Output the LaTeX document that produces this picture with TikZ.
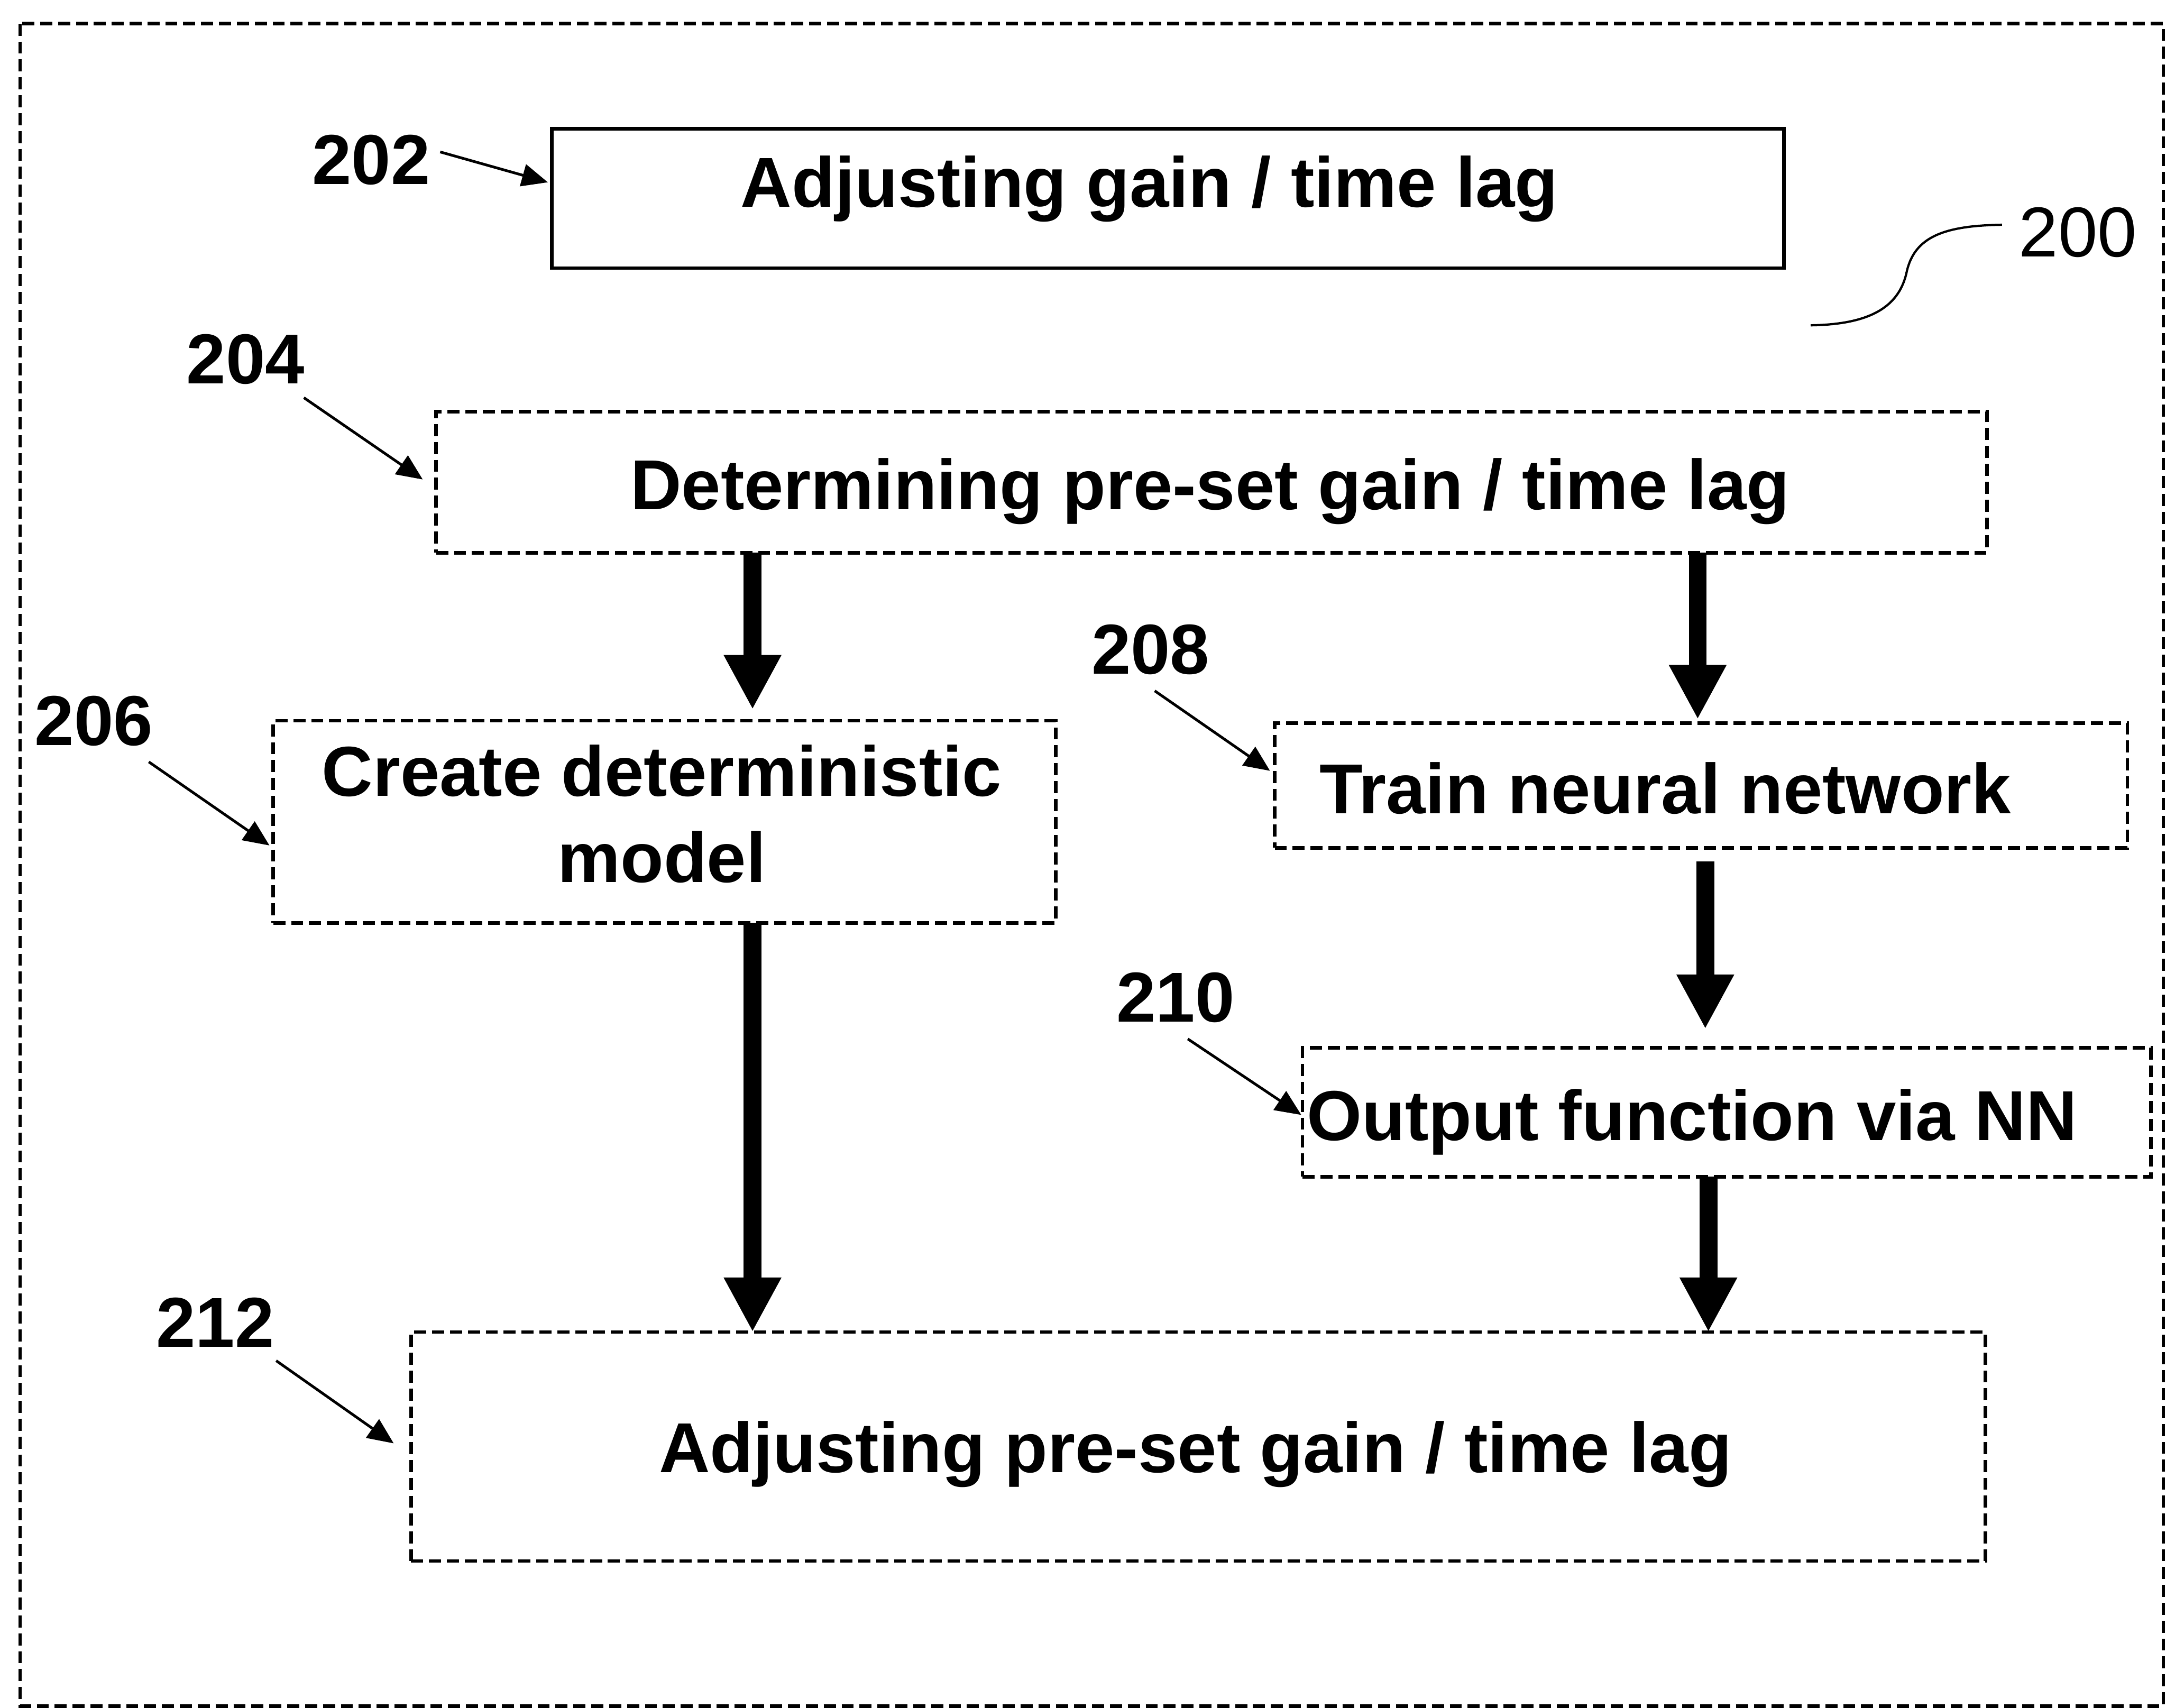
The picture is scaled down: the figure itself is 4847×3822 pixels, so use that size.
\documentclass[tikz,border=0pt]{standalone}
\usepackage{fontspec}
\setmainfont{Liberation Sans}
\usetikzlibrary{arrows.meta}
\begin{document}
\begin{tikzpicture}[x=0.01cm,y=-0.01cm,
  frame/.style={draw, line width=0.08cm, dash pattern=on 0.27cm off 0.13cm},
  stepbox/.style={draw, line width=0.08cm, dash pattern=on 0.27cm off 0.13cm,
    inner sep=0pt, outer sep=0pt, rectangle},
  solidbox/.style={draw, line width=0.08cm, inner sep=0pt, outer sep=0pt, rectangle},
  steptext/.style={inner sep=0pt, font=\fontsize{45}{54}\selectfont\bfseries},
  reflabel/.style={inner sep=0pt, anchor=base west, font=\fontsize{45}{54}\selectfont\bfseries},
  bigarrow/.style={line width=0.4cm, -{Triangle[width=1.2cm,length=1.22cm]}},
  leader/.style={line width=0.06cm, -{Triangle[width=0.5cm,length=0.58cm]}}
]
\useasboundingbox (0,0) rectangle (4847,3822);

% outer frame
\draw[frame] (45,53) rectangle (4841,3818);

% process steps
\node[solidbox, minimum width=27.55cm, minimum height=3.12cm] (b202) at (2613.5,444) {};
\node[stepbox, minimum width=34.68cm, minimum height=3.16cm] (b204) at (2711,1079) {};
\node[stepbox, minimum width=17.50cm, minimum height=4.52cm] (b206) at (1487,1839) {};
\node[stepbox, minimum width=19.07cm, minimum height=2.79cm] (b208) at (3806.5,1757.5) {};
\node[stepbox, minimum width=18.98cm, minimum height=2.88cm] (b210) at (3864,2489) {};
\node[stepbox, minimum width=35.21cm, minimum height=5.12cm] (b212) at (2681.5,3237) {};

% step texts
\node[steptext, anchor=base west] (t202) at (1657,463) {Adjusting gain / time lag};
\node[steptext, anchor=base west] (t204) at (1410,1140) {Determining pre-set gain / time lag};
\node[steptext, anchor=base] (t206a) at (1481,1782) {Create deterministic};
\node[steptext, anchor=base] (t206b) at (1481,1974) {model};
\node[steptext, anchor=base west] (t208) at (2952,1820) {Train neural network};
\node[steptext, anchor=base west] (t210) at (2924,2552) {Output function via NN};
\node[steptext, anchor=base west] (t212) at (1474,3295) {Adjusting pre-set gain / time lag};

% flow arrows
\coordinate (colL) at (1684,0);
\coordinate (colR1) at (3799,0);
\coordinate (colR2) at (3816,0);
\coordinate (colR3) at (3823,0);
\draw[bigarrow, shorten >=0.25cm] (b204.south -| colL) -- (b206.north -| colL);
\draw[bigarrow, shorten >=0.08cm] (b204.south -| colR1) -- (b208.north -| colR1);
\draw[bigarrow, shorten <=0.31cm, shorten >=0.42cm] (b208.south -| colR2) -- (b210.north -| colR2);
\draw[bigarrow] (b206.south -| colL) -- (b212.north -| colL);
\draw[bigarrow] (b210.south -| colR3) -- (b212.north -| colR3);

% reference numerals
\node[reflabel] (l202) at (698,412) {202};
\node[reflabel] (l204) at (417,859) {204};
\node[reflabel] (l206) at (77,1668) {206};
\node[reflabel] (l208) at (2442,1508) {208};
\node[reflabel] (l210) at (2498,2287) {210};
\node[reflabel] (l212) at (349,3014) {212};
\node[inner sep=0pt, anchor=base west, font=\fontsize{45}{54}\selectfont] (l200) at (4517,575) {200};

% leader lines
\coordinate (s202) at (985,340);   \coordinate (e202) at (1226,408);
\coordinate (s204) at (680,890);   \coordinate (e204) at (946,1073);
\coordinate (s206) at (333,1705);  \coordinate (e206) at (603,1892);
\coordinate (s208) at (2584,1546); \coordinate (e208) at (2842,1725);
\coordinate (s210) at (2658,2325); \coordinate (e210) at (2912,2495);
\coordinate (s212) at (618,3045);  \coordinate (e212) at (881,3230);
\draw[leader] (s202) -- (e202);
\draw[leader] (s204) -- (e204);
\draw[leader] (s206) -- (e206);
\draw[leader] (s208) -- (e208);
\draw[leader] (s210) -- (e210);
\draw[leader] (s212) -- (e212);

% curved lead line of the overall numeral
\coordinate (q200) at (4480,503);
\draw[line width=0.05cm] (4052,728) .. controls (4180,726) and (4250,690) .. (4267,607)
  .. controls (4285,530) and (4350,505) .. (q200);
\end{tikzpicture}
\end{document}
